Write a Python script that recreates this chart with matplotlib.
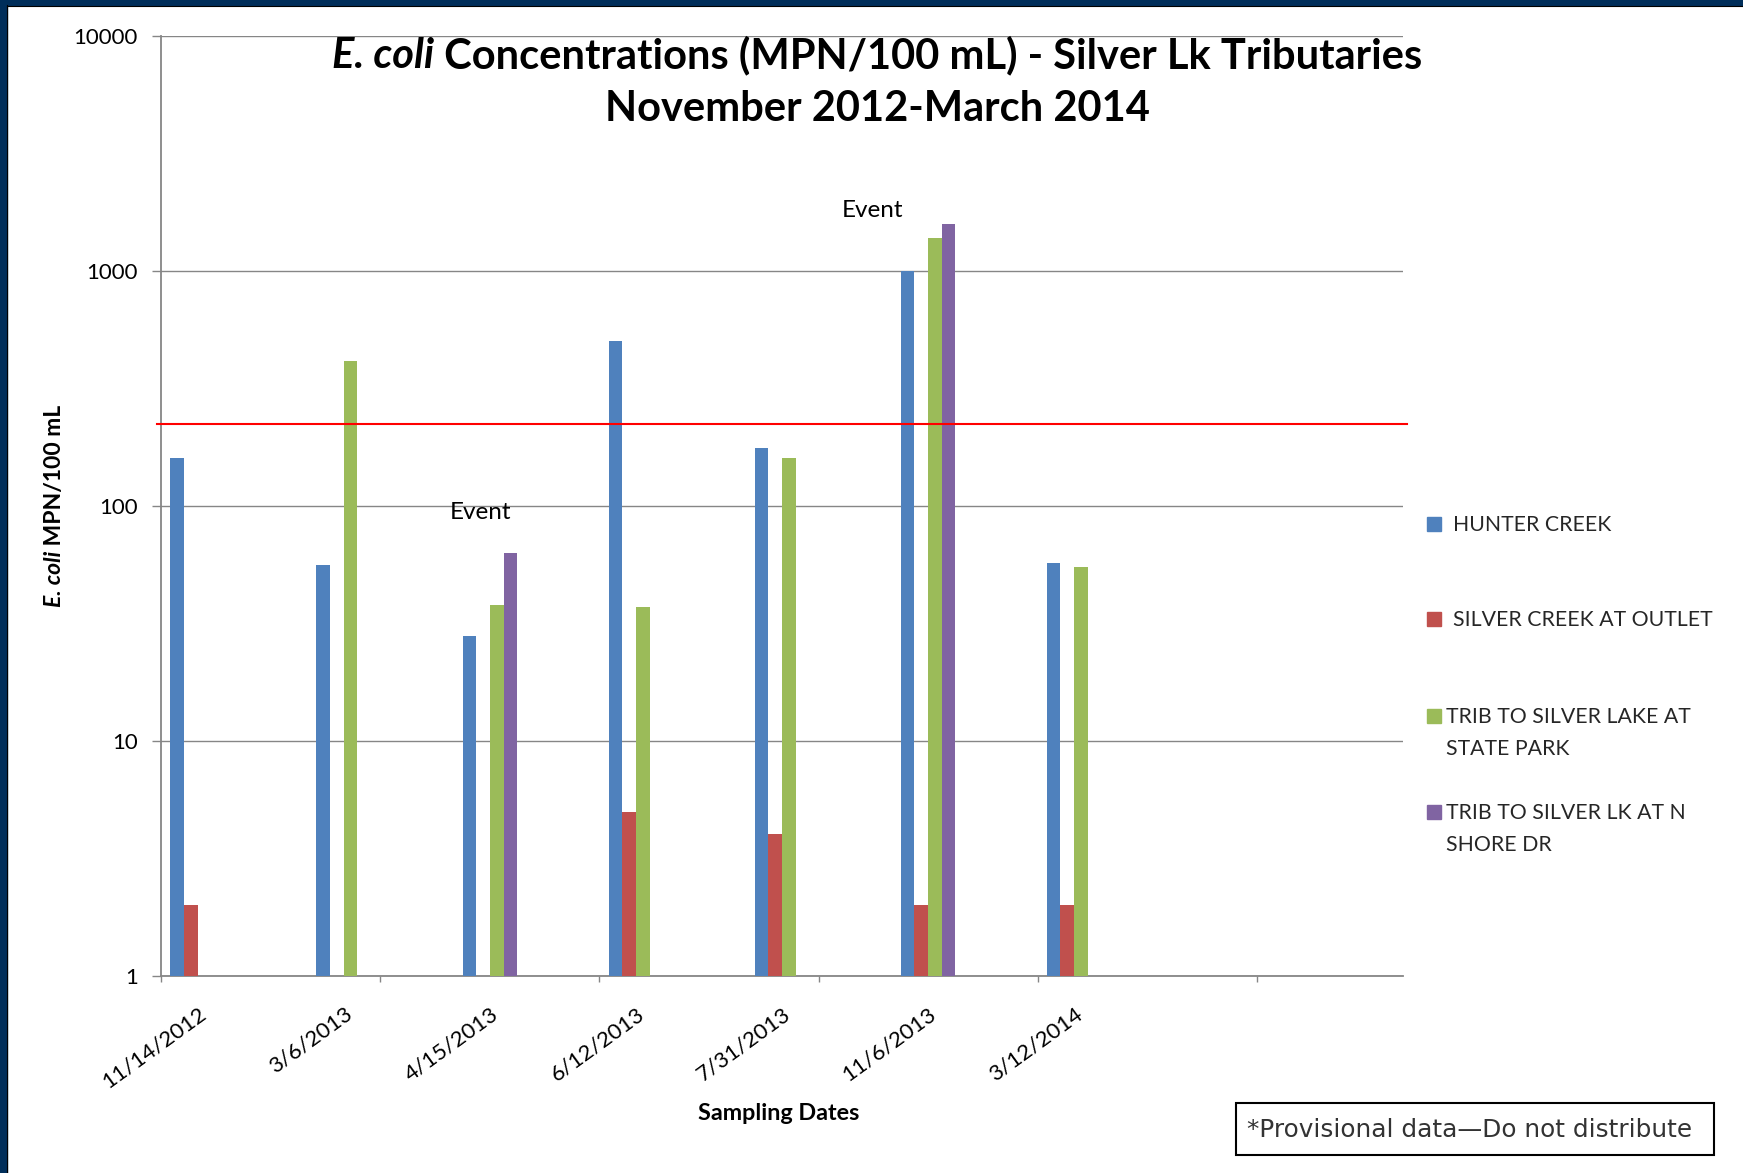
#!/usr/bin/env python3
"""
E. coli concentrations at the Silver Lake tributaries, Nov 2012 - Mar 2014.
Writes out.png
"""

import matplotlib
matplotlib.use("Agg")
import matplotlib.patches as patches
import matplotlib.pyplot as plt
import numpy as np

plt.rcParams['font.family'] = ['Lato', 'DejaVu Sans']

dates = ["11/14/2012", "3/6/2013", "4/15/2013", "6/12/2013",
         "7/31/2013", "11/6/2013", "3/12/2014"]
series = ["HUNTER CREEK", "SILVER CREEK AT OUTLET",
          "TRIB TO SILVER LAKE AT\nSTATE PARK", "TRIB TO SILVER LK AT N\nSHORE DR"]
colors = ["#4F81BD", "#C0504D", "#9BBB59", "#8064A2"]
hunter_creek = [160, 56, 28, 500, 176, 1000, 57]
silver_outlet = [2, None, None, 5, 4, 2, 2]
trib_state_park = [None, 412, 38, 37, 160, 1380, 55]
trib_shore_dr = [None, None, 63, None, None, 1580, None]
standard = 223
event_dates = ["4/15/2013", "11/6/2013"]
event_values = [94, 1810]
yticks = [1, 10, 100, 1000, 10000]

W, H = 1743, 1173
GRID = "#868686"


def main():
    fig = plt.figure(figsize=(W / 100, H / 100), dpi=100)
    ax = fig.add_axes([161.2 / W, 1 - 976 / H, 1241.6 / W, 940.4 / H])

    values = [hunter_creek, silver_outlet, trib_state_park, trib_shore_dr]
    w = 0.0935
    x = np.arange(len(dates))
    for k, vals in enumerate(values):
        xs = [x[i] + (k - 1.5) * w for i, v in enumerate(vals) if v is not None]
        hs = [v for v in vals if v is not None]
        ax.bar(xs, hs, width=w, color=colors[k], zorder=3)

    ax.set_yscale('log')
    ax.set_ylim(1, 10000)
    ax.set_xlim(-0.25, 8.25)
    ax.set_yticks(yticks, [str(t) for t in yticks])
    ax.yaxis.set_minor_locator(matplotlib.ticker.NullLocator())
    ax.tick_params(axis='y', which='major', length=6.5, width=1, color=GRID,
                   pad=10.5, labelsize=16)
    ax.yaxis.grid(True, color=GRID, lw=1, zorder=0)
    ax.set_axisbelow(True)

    ax.set_xticks(x, dates, rotation=36, ha='right', rotation_mode='anchor')
    ax.tick_params(axis='x', which='major', length=0, pad=20, labelsize=16)
    ax.set_xticks(np.arange(-0.25, 8, 1.5), minor=True)
    ax.tick_params(axis='x', which='minor', length=4.5, width=1, color=GRID)

    for s in ['top', 'right']:
        ax.spines[s].set_visible(False)
    for s in ['left', 'bottom']:
        ax.spines[s].set_color(GRID)
        ax.spines[s].set_linewidth(1.3)

    # water quality standard line
    ax.axhline(standard, xmin=-0.003, xmax=1.003, color='#FF0000', lw=1.5,
               clip_on=False, zorder=4)

    # event labels
    offsets = [-0.065, -0.38]
    for d, v, off in zip(event_dates, event_values, offsets):
        ax.text(dates.index(d) + off, v, "Event", ha='center', va='center',
                fontsize=17.5)

    renderer = fig.canvas.get_renderer()

    # title, "E. coli" in bold italic
    def title_line(parts, base, size):
        texts = []
        for txt, style in parts:
            texts.append(fig.text(0, 1 - base / H, txt, fontsize=size,
                                  weight='bold', style=style,
                                  ha='left', va='baseline'))
        widths = [t.get_window_extent(renderer).width for t in texts]
        x0 = 877 - sum(widths) / 2
        for t, wd in zip(texts, widths):
            t.set_x(x0 / W)
            x0 += wd

    title_line([("E. coli", 'italic'),
                (" Concentrations (MPN/100 mL) - Silver Lk Tributaries", 'normal')],
               68, 30)
    title_line([("November 2012-March 2014", 'normal')], 121, 30)

    # y label, rotated
    t1 = fig.text(61 / W, 0, "E. coli", fontsize=16.5, weight='bold',
                  style='italic', rotation=90, rotation_mode='anchor',
                  ha='left', va='baseline')
    t2 = fig.text(61 / W, 0, " MPN/100 mL", fontsize=16.5, weight='bold',
                  rotation=90, rotation_mode='anchor', ha='left', va='baseline')
    h1 = t1.get_window_extent(renderer).height
    h2 = t2.get_window_extent(renderer).height
    y0 = (H - 506) - (h1 + h2) / 2
    t1.set_y(y0 / H)
    t2.set_y((y0 + h1) / H)

    fig.text(779 / W, 1 - 1113 / H, "Sampling Dates", fontsize=16.8,
             weight='bold', ha='center', va='center')

    # legend
    leg_y = [523.7, 619, 715.7, 812]
    leg_tx = [1453, 1453, 1446, 1446]
    for lab, c, yc, tx in zip(series, colors, leg_y, leg_tx):
        fig.add_artist(patches.Rectangle((1427 / W, 1 - (yc + 7) / H),
                                         13.5 / W, 14 / H, color=c,
                                         transform=fig.transFigure))
        fig.text(tx / W, 1 - (yc - 9) / H, lab, fontsize=15.3, color='#262626',
                 ha='left', va='top', linespacing=1.75)

    # provisional data box
    fig.add_artist(patches.Rectangle((1236 / W, 1 - 1155 / H), 478 / W, 52 / H,
                                     facecolor='white', edgecolor='black',
                                     lw=1.5, transform=fig.transFigure))
    fig.text(1247 / W, 1 - 1130 / H, "*Provisional data\u2014Do not distribute",
             fontsize=17.8, family='DejaVu Sans', color='#333333',
             ha='left', va='center')

    # navy frame along top and left edges
    navy = "#002E5A"
    fig.add_artist(patches.Rectangle((0, 1 - 5 / H), 1, 5 / H, color=navy,
                                     transform=fig.transFigure))
    fig.add_artist(patches.Rectangle((0, 0), 7 / W, 1, color=navy,
                                     transform=fig.transFigure))
    fig.add_artist(plt.Line2D([7 / W, 1], [1 - 5.5 / H, 1 - 5.5 / H],
                              color='black', lw=0.8, transform=fig.transFigure))
    fig.add_artist(plt.Line2D([7.5 / W, 7.5 / W], [0, 1 - 5 / H],
                              color='black', lw=0.8, transform=fig.transFigure))

    fig.savefig("out.png", dpi=100, facecolor='white')


if __name__ == "__main__":
    main()
